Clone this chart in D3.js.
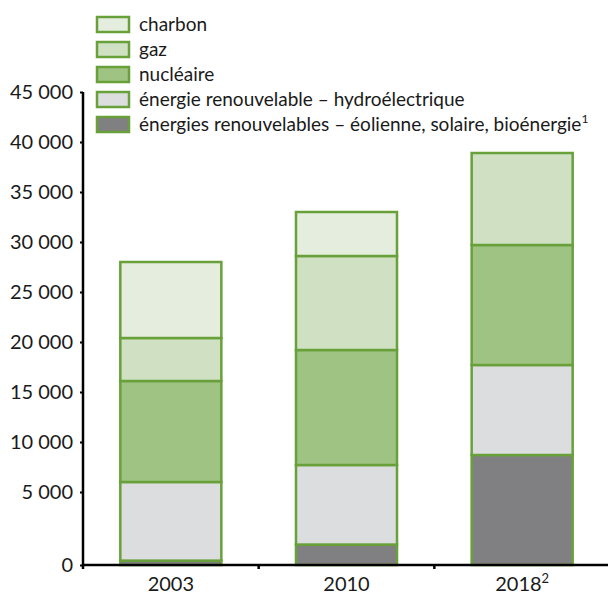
<!DOCTYPE html>
<html>
<head>
<meta charset="utf-8">
<style>
    body { margin: 0; background: #fff; }
    svg { font-family: Lato, "Liberation Sans", sans-serif; }
</style>
</head>
<body>
<svg width="610" height="595"></svg>
<script src="https://d3js.org/d3.v7.min.js"></script>
<script>

    var years = ["2003", "2010", "2018"];
    var yearNotes = ["", "", "2"];
    var sources = ["eolien", "hydro", "nucleaire", "gaz", "charbon"];
    var sourceLabels = {
        charbon: "charbon",
        gaz: "gaz",
        nucleaire: "nucléaire",
        hydro: "énergie renouvelable – hydroélectrique",
        eolien: "énergies renouvelables – éolienne, solaire, bioénergie"
    };
    var legendOrder = ["charbon", "gaz", "nucleaire", "hydro", "eolien"];

    var eolien    = [300, 1400, 8700];
    var hydro     = [5700, 6300, 9000];
    var nucleaire = [10100, 11500, 12000];
    var gaz       = [4300, 9400, 9200];
    var charbon   = [7600, 4400, 0];

    var yTicks = [0, 5000, 10000, 15000, 20000, 25000, 30000, 35000, 40000, 45000];

    var colors = {
        charbon: "#e5eddf",
        gaz: "#cfe0c3",
        nucleaire: "#9fc383",
        hydro: "#dcdddf",
        eolien: "#808083"
    };
    var strokeGreen = "#68a03a";

    var rows = years.map(function(y, i) {
        return { year: y, eolien: eolien[i], hydro: hydro[i], nucleaire: nucleaire[i], gaz: gaz[i], charbon: charbon[i] };
    });

    var svg = d3.select("svg");

    // the original axis is stretched between 0 and 5 000
    var y = d3.scaleLinear()
        .domain([0, 5000, 45000])
        .range([565, 492, 92]);

    var x = d3.scaleBand()
        .domain(years)
        .range([83, 610])
        .paddingInner(0.425)
        .paddingOuter(0.2125);

    var stack = d3.stack().keys(sources);
    var series = stack(rows);

    svg.append("g")
        .selectAll("g")
        .data(series)
        .enter().append("g")
        .attr("fill", function(d) { return colors[d.key]; })
        .selectAll("rect")
        .data(function(d) { return d.filter(function(p) { return p[1] - p[0] > 0; }); })
        .enter().append("rect")
        .attr("x", function(d) { return x(d.data.year); })
        .attr("y", function(d) { return y(d[1]); })
        .attr("width", x.bandwidth())
        .attr("height", function(d) { return y(d[0]) - y(d[1]); })
        .attr("stroke", strokeGreen)
        .attr("stroke-width", 2.5);

    // y axis
    var yAxis = svg.append("g")
        .attr("transform", "translate(83,0)")
        .call(d3.axisLeft(y).tickValues(yTicks).tickSize(3)
            .tickFormat(function(d) { return d3.format(",")(d).replace(",", " "); }));
    yAxis.select(".domain").attr("stroke", "#000").attr("stroke-width", 2.5)
        .attr("d", "M0," + y(45000) + "V" + y(0));
    yAxis.selectAll(".tick line").attr("stroke", "#000").attr("stroke-width", 2);
    yAxis.selectAll(".tick text")
        .attr("x", -10)
        .attr("font-size", 20)
        .attr("font-family", "Lato, sans-serif")
        .attr("fill", "#1a1a1a");

    // x axis
    var xg = svg.append("g");
    xg.append("line")
        .attr("x1", 82).attr("x2", 608)
        .attr("y1", y(0)).attr("y2", y(0))
        .attr("stroke", "#000").attr("stroke-width", 2.5);
    var seps = [x.range()[0]].concat(years.slice(1).map(function(d) { return x(d) - x.step() * x.paddingInner() / 2; }));
    xg.selectAll("line.sep")
        .data(seps)
        .enter().append("line")
        .attr("class", "sep")
        .attr("x1", function(d) { return d; }).attr("x2", function(d) { return d; })
        .attr("y1", y(0)).attr("y2", y(0) + 4)
        .attr("stroke", "#000").attr("stroke-width", 2.5);

    var xl = xg.selectAll("text")
        .data(years)
        .enter().append("text")
        .attr("x", function(d) { return x(d) + x.bandwidth() / 2; })
        .attr("y", 591)
        .attr("text-anchor", "middle")
        .attr("font-size", 20)
        .attr("fill", "#1a1a1a");
    xl.append("tspan").text(function(d) { return d; });
    xl.append("tspan")
        .attr("font-size", 13)
        .attr("dy", -8)
        .text(function(d, i) { return yearNotes[i]; });

    // legend
    var legend = svg.append("g")
        .selectAll("g")
        .data(legendOrder)
        .enter().append("g")
        .attr("transform", function(d, i) { return "translate(97," + (17 + i * 25) + ")"; });

    legend.append("rect")
        .attr("width", 32)
        .attr("height", 15)
        .attr("fill", function(d) { return colors[d]; })
        .attr("stroke", strokeGreen)
        .attr("stroke-width", 2.5);

    var lt = legend.append("text")
        .attr("x", 42)
        .attr("y", 14)
        .attr("font-size", 19)
        .attr("fill", "#1a1a1a");
    lt.append("tspan").text(function(d) { return sourceLabels[d]; });
    lt.append("tspan")
        .attr("font-size", 12)
        .attr("dy", -8)
        .text(function(d) { return d === "eolien" ? "1" : ""; });

</script>
</body>
</html>
